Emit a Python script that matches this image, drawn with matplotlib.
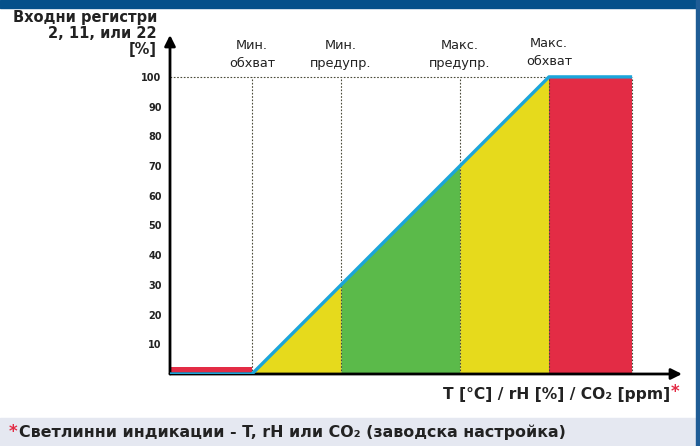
import matplotlib.pyplot as plt
from matplotlib.patches import Rectangle

# x positions in % of the output span (line is y = x between min and max range)
x_start = -27.6
x_end = 128
x_arrow = 144.8
y_arrow = 114.1

thresholds = [0, 30, 70, 100]
threshold_labels = ['Мин.\nобхват', 'Мин.\nпредупр.', 'Макс.\nпредупр.', 'Макс.\nобхват']

zone_edges = [0, 30, 70, 100]
zone_colors = ['#e6da1c', '#5bba4a', '#e6da1c']
red = '#e32c45'
low_red_height = 2.4

line_x = [x_start, 0, 100, x_end]
line_y = [0, 0, 100, 100]

y_ticks = [10, 20, 30, 40, 50, 60, 70, 80, 90, 100]

fig = plt.figure(figsize=(7, 4.46), dpi=100)
ax = fig.add_axes([170 / 700, 72 / 446, 512 / 700, 339 / 446])
ax.set_xlim(x_start, x_arrow)
ax.set_ylim(0, y_arrow)

# coloured zones under the line
for i in range(len(zone_colors)):
    a, b = zone_edges[i], zone_edges[i + 1]
    ax.fill_between([a, b], [a, b], 0, color=zone_colors[i], lw=0, zorder=1)
ax.fill_between([x_start, 0], 0, low_red_height, color=red, lw=0, zorder=1)
ax.fill_between([100, x_end], 0, 100, color=red, lw=0, zorder=1)

# dotted guides
dot = dict(color='#4a4a3a', lw=0.8, ls=(0, (1.5, 1.5)), zorder=2)
for t in thresholds:
    ax.plot([t, t], [0, 100], **dot)
ax.plot([x_end, x_end], [0, 100], **dot)
ax.plot([x_start, 100], [100, 100], **dot)

ax.plot(line_x, line_y, color='#1ba5da', lw=2.4, zorder=4, solid_capstyle='butt')

for i, (t, lab) in enumerate(zip(thresholds, threshold_labels)):
    dy = 0.8 if i == 3 else 0
    ax.text(t, 102.3 + dy, lab, ha='center', va='bottom', fontsize=9.3,
            color='#222222', linespacing=1.5)

# axes with arrows
for s in ax.spines.values():
    s.set_visible(False)
arrow = dict(arrowstyle='-|>', color='black', lw=2, mutation_scale=16, shrinkA=0, shrinkB=0)
ax.annotate('', xy=(1, 0), xytext=(0, 0), xycoords='axes fraction', arrowprops=arrow, zorder=3)
ax.annotate('', xy=(0, 1), xytext=(0, 0), xycoords='axes fraction', arrowprops=arrow, zorder=3)

ax.set_xticks([])
ax.set_yticks(y_ticks)
ax.set_yticklabels([str(v) for v in y_ticks], fontsize=7, fontweight='bold', color='#222222')
ax.tick_params(axis='y', length=0, pad=6)

fig.text(157 / 700, 1 - 10 / 446, 'Входни регистри\n2, 11, или 22\n[%]', ha='right', va='top',
         fontsize=10.5, fontweight='bold', color='#222222', linespacing=1.1)

fig.text(670 / 700, 1 - 394 / 446, 'T [°C] / rH [%] / CO₂ [ppm]', ha='right', va='center',
         fontsize=11.2, fontweight='bold', color='#222222')
fig.text(671 / 700, 1 - 392 / 446, '*', ha='left', va='center', fontsize=12,
         fontweight='bold', color=red)

# frame pieces
fig.patches.append(Rectangle((0, 0), 695 / 700, 28 / 446, transform=fig.transFigure,
                             color='#e5e8f1', zorder=0))
fig.patches.append(Rectangle((0, 1 - 8 / 446), 1, 8 / 446, transform=fig.transFigure,
                             color='#05508a', zorder=0))
fig.patches.append(Rectangle((696 / 700, 0), 4 / 700, 1, transform=fig.transFigure,
                             color='#1f5d96', zorder=0))

fig.text(9 / 700, 14 / 446, '*', ha='left', va='center', fontsize=12,
         fontweight='bold', color=red)
fig.text(19 / 700, 14 / 446, 'Светлинни индикации - T, rH или CO₂ (заводска настройка)',
         ha='left', va='center', fontsize=11.4, fontweight='bold', color='#222222')

fig.savefig('out.png', dpi=100)
